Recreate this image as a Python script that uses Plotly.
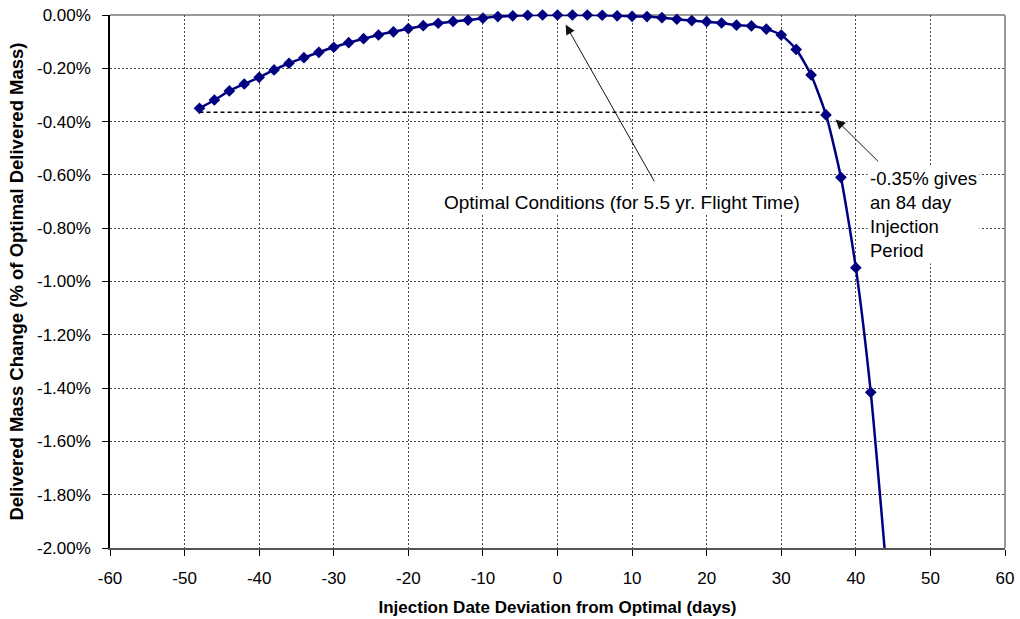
import plotly.graph_objects as go

# Injection date deviation (days) and delivered-mass change (% of optimal)
days = [-48, -46, -44, -42, -40, -38, -36, -34, -32, -30, -28, -26, -24, -22,
        -20, -18, -16, -14, -12, -10, -8, -6, -4, -2, 0, 2, 4, 6, 8, 10, 12,
        14, 16, 18, 20, 22, 24, 26, 28, 30, 32, 34, 36, 38, 40, 42, 44]
mass_change = [-0.350, -0.319, -0.285, -0.259, -0.234, -0.206, -0.181, -0.160,
               -0.140, -0.121, -0.104, -0.089, -0.075, -0.063, -0.051, -0.040,
               -0.031, -0.024, -0.019, -0.012, -0.006, -0.003, -0.001, 0.000,
               0.000, 0.000, 0.000, -0.001, -0.003, -0.005, -0.006, -0.010,
               -0.016, -0.021, -0.025, -0.030, -0.038, -0.041, -0.053, -0.075,
               -0.129, -0.225, -0.375, -0.609, -0.948, -1.416, -2.050]

# Threshold line spanning the 84-day injection window
window_days = [-48, 36]
window_level = [-0.365, -0.365]

x_ticks = [-60, -50, -40, -30, -20, -10, 0, 10, 20, 30, 40, 50, 60]
x_tick_text = [str(v) for v in x_ticks]
y_ticks = [0.0, -0.2, -0.4, -0.6, -0.8, -1.0, -1.2, -1.4, -1.6, -1.8, -2.0]
y_tick_text = [f"{v:.2f}%" for v in y_ticks]
Y_MIN, Y_MAX = -2.0, 0.0

FONT = "Liberation Sans, Arial, sans-serif"
NAVY = "#000080"

fig = go.Figure()

fig.add_trace(go.Scatter(
    x=window_days, y=window_level, mode="lines",
    line=dict(color="black", width=1.5, dash="4px,3px"),
    hoverinfo="skip", showlegend=False,
))

# Smoothed curve (clipped to the plot area)
fig.add_trace(go.Scatter(
    x=days, y=mass_change, mode="lines",
    line=dict(color=NAVY, width=2.5, shape="spline", smoothing=0.6),
    showlegend=False,
))

# Data-point markers inside the axis range, drawn unclipped over the frame
in_range = [(d, v) for d, v in zip(days, mass_change) if Y_MIN <= v <= Y_MAX]
fig.add_trace(go.Scatter(
    x=[d for d, _ in in_range], y=[v for _, v in in_range], mode="markers",
    marker=dict(symbol="diamond", size=9, color=NAVY),
    cliponaxis=False, showlegend=False,
))

# Callout arrows
fig.add_annotation(x=1.1, y=-0.037, ax=13.1, ay=-0.630, xref="x", yref="y",
                   axref="x", ayref="y", text="", showarrow=True,
                   arrowhead=2, arrowsize=1.9, arrowwidth=1, arrowcolor="#111")
fig.add_annotation(x=37.3, y=-0.392, ax=43.2, ay=-0.555, xref="x", yref="y",
                   axref="x", ayref="y", text="", showarrow=True,
                   arrowhead=2, arrowsize=1.9, arrowwidth=1, arrowcolor="#111")

# Callout texts
fig.add_annotation(x=8.6, y=-0.704, xref="x", yref="y", showarrow=False,
                   text="Optimal Conditions (for 5.5 yr. Flight Time)",
                   font=dict(family=FONT, size=19, color="black"),
                   bgcolor="white", borderpad=1)
fig.add_annotation(x=41.5, y=-0.563, xref="x", yref="y", showarrow=False,
                   xanchor="left", yanchor="top", align="left",
                   text="-0.35% gives<br>an 84 day<br>Injection<br>Period",
                   font=dict(family=FONT, size=18.5, color="black"),
                   bgcolor="white", borderpad=2)

# Plot-area top and right border
fig.add_shape(type="line", xref="paper", yref="paper", x0=0, x1=1, y0=1, y1=1,
              line=dict(color="#999999", width=2), layer="below")
fig.add_shape(type="line", xref="paper", yref="paper", x0=1, x1=1, y0=0, y1=1,
              line=dict(color="#999999", width=2), layer="below")

fig.update_layout(
    width=1020, height=619,
    margin=dict(l=110, r=15, t=15, b=71),
    paper_bgcolor="white", plot_bgcolor="white",
    font=dict(family=FONT, color="black"),
)

fig.update_xaxes(
    range=[-60, 60], tickvals=x_ticks, ticktext=x_tick_text,
    ticks="outside", ticklen=6, tickcolor="black", ticklabelstandoff=8,
    showline=True, linecolor="#555555", linewidth=1.5,
    showgrid=True, gridcolor="#444444", gridwidth=1, griddash="2px,2px",
    zeroline=False, tickfont=dict(family=FONT, size=17), automargin=False,
    title=dict(text="<b>Injection Date Deviation from Optimal (days)</b>",
               font=dict(family=FONT, size=17), standoff=14),
)
fig.update_yaxes(
    range=[Y_MIN, Y_MAX], tickvals=y_ticks, ticktext=y_tick_text,
    ticks="outside", ticklen=6, tickcolor="black", ticklabelstandoff=8,
    showline=True, linecolor="black", linewidth=1.5,
    showgrid=True, gridcolor="#444444", gridwidth=1, griddash="2px,2px",
    zeroline=False, tickfont=dict(family=FONT, size=17), automargin=False,
    title=dict(text="<b>Delivered Mass Change (% of Optimal Delivered Mass)</b>",
               font=dict(family=FONT, size=18.5), standoff=8),
)

fig.write_html("out.html")
